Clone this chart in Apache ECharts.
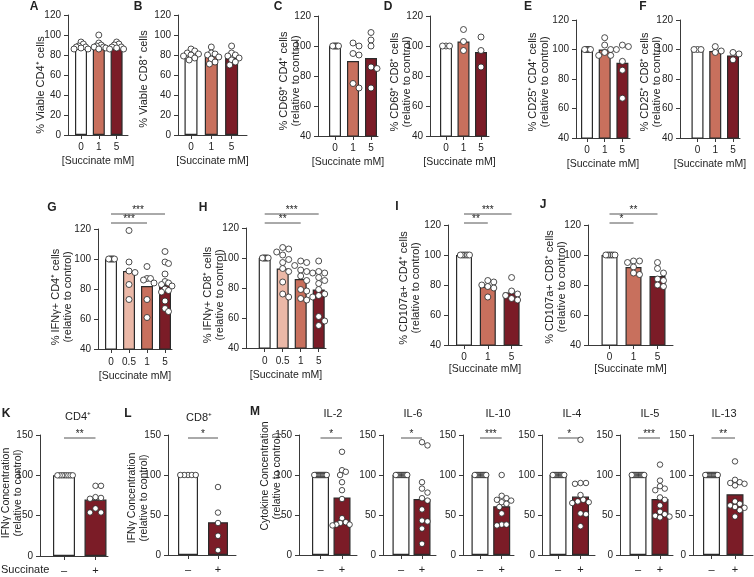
<!DOCTYPE html>
<html>
<head>
<meta charset="utf-8">
<script src="https://cdn.jsdelivr.net/npm/echarts@6/dist/echarts.min.js"></script>
<style>
html, body { margin: 0; padding: 0; background: #fff; }
#chart { width: 754px; height: 577px; }
</style>
</head>
<body>
<div id="chart"></div>
<script>
// categories
const succ3 = ['0', '1', '5'];
const succ4 = ['0', '0.5', '1', '5'];
const plusMinus = ['–', '+'];

// A / B  viability
const viableCD4Bars = [88, 88, 87];
const viableCD4Dots = [[93, 91, 89, 88, 88, 87, 86, 86], [100, 92, 90, 89, 88, 88, 87, 86], [93, 91, 90, 88, 88, 87, 86, 86]];
const viableCD8Bars = [80, 79, 77];
const viableCD8Dots = [[86, 84, 82, 81, 80, 79, 77, 75], [88, 82, 81, 80, 78, 76, 73, 71], [89, 82, 80, 79, 77, 75, 73, 70]];
// C / D  CD69
const cd69CD4Bars = [100, 90, 92];
const cd69CD4Dots = [[100, 100, 100, 100, 100, 100], [102, 100, 95, 94, 75, 72], [109, 104, 100, 86, 85, 72]];
const cd69CD8Bars = [100, 103, 96];
const cd69CD8Dots = [[100, 100, 100], [111, 103, 97], [106, 97, 86]];
// E / F  CD25
const cd25CD4Bars = [100, 100, 91];
const cd25CD4Dots = [[100, 100, 100, 100, 100, 100], [108, 103, 100, 98, 96, 96], [103, 102, 100, 92, 86, 67]];
const cd25CD8Bars = [100, 99, 96];
const cd25CD8Dots = [[100, 100, 100], [102, 99, 98], [98, 97, 93]];
// G / H  IFNg+
const ifngCD4Bars = [100, 92, 82, 83];
const ifngCD4Dots = [[100, 100, 100, 100, 100, 100], [119, 98, 92, 91, 83, 73], [95, 87, 87, 86, 84, 73, 61],
  [105, 98, 97, 90, 85, 84, 83, 82, 80, 79, 78, 72, 67, 65]];
const ifngCD8Bars = [100, 93, 86, 79];
const ifngCD8Dots = [[100, 100, 100, 100, 100, 100], [107, 106, 104, 102, 99, 97, 93, 91, 84, 76, 74],
  [98, 97, 95, 92, 91, 88, 85, 79, 78, 73, 72], [98, 91, 90, 90, 87, 85, 83, 79, 76, 75, 74, 61, 58, 55]];
// I / J  CD107a
const cd107CD4Bars = [100, 79, 75];
const cd107CD4Dots = [[100, 100, 100, 100, 100, 100], [83, 82, 80, 79, 78, 72], [85, 76, 74, 73, 71, 70]];
const cd107CD8Bars = [100, 92, 86];
const cd107CD8Dots = [[100, 100, 100, 100, 100, 100], [96, 96, 95, 92, 88, 87], [95, 91, 88, 84, 83, 80, 79]];
// K / L  IFNg concentration
const concCD4Bars = [100, 70];
const concCD4Dots = [[100, 100, 100, 100, 100, 100, 100, 100], [87, 87, 73, 72, 71, 59, 54, 54]];
const concCD8Bars = [100, 41];
const concCD8Dots = [[100, 100, 100, 100, 100], [85, 53, 40, 24, 6]];
// M  cytokines
const il2Bars = [100, 72];
const il2Dots = [Array(13).fill(100), [129, 106, 104, 100, 91, 81, 70, 46, 41, 40, 38, 37, 38]];
const il6Bars = [100, 70];
const il6Dots = [Array(12).fill(100), [141, 137, 91, 83, 78, 71, 68, 57, 43, 42, 33, 14]];
const il10Bars = [100, 61];
const il10Dots = [Array(12).fill(100), [100, 74, 71, 69, 68, 66, 64, 60, 52, 38, 38, 37]];
const il4Bars = [100, 73];
const il4Dots = [Array(12).fill(100), [144, 90, 90, 89, 75, 69, 67, 66, 65, 52, 51, 36]];
const il5Bars = [100, 70];
const il5Dots = [Array(13).fill(100), [113, 93, 86, 83, 81, 72, 69, 62, 54, 51, 49, 48, 47]];
const il13Bars = [100, 76];
const il13Dots = [Array(13).fill(100), [117, 94, 91, 90, 89, 87, 67, 64, 62, 60, 59, 56, 48]];

const FONT = '"Liberation Sans", Arial, sans-serif';
const INK = '#222';
const AXIS = '#3a3a3a';
const WHITE = '#ffffff', PINK = '#ebb8a7', SALMON = '#c8705d', DARK = '#7b1c27';

const rows = {
  top:  { xName: '[Succinate mM]', margin: 7, nameGap: 21, dot: 6, fs: 10, nameFs: 11 },
  midL: { xName: '[Succinate mM]', margin: 8, nameGap: 22, dot: 6, fs: 10, nameFs: 11 },
  midR: { xName: '[Succinate mM]', margin: 7, nameGap: 19, dot: 6, fs: 10, nameFs: 11 },
  bot:  { xName: '', margin: 9, nameGap: 0, dot: 5.5, fs: 11, nameFs: 10.5 }
};

function P(cats, bars, dots, y, box, c0, sp, bw, yName, yPos, row, sig) {
  return { cats, bars, dots, y, box, c0, sp, bw, yName, yPos, row: rows[row], sig: sig || [] };
}
const rel = '\n(relative to control)';
const panels = [
  P(succ3, viableCD4Bars, viableCD4Dots, [0, 120, 20], [68, 15, 60, 120], 81, 17.8, 12, '% Viable CD4⁺ cells', [40.5, 85], 'top'),
  P(succ3, viableCD8Bars, viableCD8Dots, [0, 120, 20], [178, 15, 69, 120], 191, 20.3, 13, '% Viable CD8⁺ cells', [143.5, 79], 'top'),
  P(succ3, cd69CD4Bars, cd69CD4Dots, [40, 120, 20], [318, 16, 60, 120], 335, 18, 12, '% CD69⁺ CD4⁺ cells' + rel, [289.5, 81], 'top'),
  P(succ3, cd69CD8Bars, cd69CD8Dots, [40, 120, 20], [430, 16, 59, 120], 446, 17.5, 12, '% CD69⁺ CD8⁺ cells' + rel, [400.5, 82], 'top'),
  P(succ3, cd25CD4Bars, cd25CD4Dots, [40, 120, 20], [576, 20, 54, 118], 587, 17.7, 12, '% CD25⁺ CD4⁺ cells' + rel, [539, 82], 'top'),
  P(succ3, cd25CD8Bars, cd25CD8Dots, [40, 120, 20], [680, 20, 60, 118], 697.5, 17.75, 12, '% CD25⁺ CD8⁺ cells' + rel, [651, 82], 'top'),
  P(succ4, ifngCD4Bars, ifngCD4Dots, [40, 120, 20], [98, 229, 74, 120], 111, 18, 12, '% IFNγ+ CD4⁺ cells' + rel, [61.5, 297], 'midL',
    [[0, 3, '***'], [0, 2, '***']]),
  P(succ4, ifngCD8Bars, ifngCD8Dots, [40, 120, 20], [246, 228, 80, 120], 264.7, 18, 12, '% IFNγ+ CD8⁺ cells' + rel, [213.5, 295], 'midL',
    [[0, 3, '***'], [0, 2, '**']]),
  P(succ3, cd107CD4Bars, cd107CD4Dots, [40, 120, 20], [448, 225, 74, 120], 464, 23.8, 16, '% CD107a+ CD4⁺ cells' + rel, [410, 288], 'midR',
    [[0, 2, '***'], [0, 1, '**']]),
  P(succ3, cd107CD8Bars, cd107CD8Dots, [40, 120, 20], [588, 225, 85, 120], 609.5, 24, 16, '% CD107a+ CD8⁺ cells' + rel, [556, 287], 'midR',
    [[0, 2, '**'], [0, 1, '*']]),
  P(plusMinus, concCD4Bars, concCD4Dots, [0, 150, 50], [40, 435, 68, 121], 64, 31.5, 22, 'IFNγ Concentration' + rel, [12, 493], 'bot', [[0, 1, '**']]),
  P(plusMinus, concCD8Bars, concCD8Dots, [0, 150, 50], [168, 435, 68, 120], 188, 30, 20, 'IFNγ Concentration' + rel, [138, 498], 'bot', [[0, 1, '*']]),
  P(plusMinus, il2Bars, il2Dots, [0, 150, 50], [299, 435, 58, 120], 320.5, 21.5, 17, 'Cytokine Concentration' + rel, [271, 476], 'bot', [[0, 1, '*']]),
  P(plusMinus, il6Bars, il6Dots, [0, 150, 50], [383, 435, 53, 120], 401, 21, 17, '', null, 'bot', [[0, 1, '*']]),
  P(plusMinus, il10Bars, il10Dots, [0, 150, 50], [463, 435, 51, 120], 480, 21.7, 17, '', null, 'bot', [[0, 1, '***']]),
  P(plusMinus, il4Bars, il4Dots, [0, 150, 50], [542, 435, 53, 120], 558, 22.5, 17, '', null, 'bot', [[0, 1, '*']]),
  P(plusMinus, il5Bars, il5Dots, [0, 150, 50], [620, 435, 53, 120], 638, 22, 17, '', null, 'bot', [[0, 1, '***']]),
  P(plusMinus, il13Bars, il13Dots, [0, 150, 50], [693, 435, 60, 120], 711.5, 23.5, 17, '', null, 'bot', [[0, 1, '**']])
];

const letters = [['A', 34, 7], ['B', 138, 7], ['C', 278, 7], ['D', 388, 7], ['E', 528, 7], ['F', 643, 7],
  ['G', 52, 208], ['H', 203, 208], ['I', 397, 207], ['J', 543, 205], ['K', 6, 414], ['L', 128, 414], ['M', 255, 412]];
const titles = [['CD4⁺', 78, 417], ['CD8⁺', 199, 418], ['IL-2', 333, 414], ['IL-6', 413, 414], ['IL-10', 498, 414],
  ['IL-4', 572, 414], ['IL-5', 650, 414], ['IL-13', 724, 414]];

function colorsFor(cats) {
  if (cats.length === 4) return [WHITE, PINK, SALMON, DARK];
  if (cats.length === 3) return [WHITE, SALMON, DARK];
  return [WHITE, DARK];
}

// simple beeswarm so the dots of a group do not sit on top of each other
function swarm(vals, idx, p, d) {
  const ppu = p.box[3] / (p.y[1] - p.y[0]);
  const order = vals.map((_, i) => i).sort((a, b) => vals[b] - vals[a]);
  const placed = [], offs = [];
  for (const i of order) {
    const yy = vals[i] * ppu;
    let off = 0;
    for (let k = 0; k < 400; k++) {
      const o = (k % 2 ? 1 : -1) * Math.ceil(k / 2) * d * 0.5;
      if (placed.every(q => (q[0] - o) ** 2 + (q[1] - yy) ** 2 >= d * d * 0.85)) { off = o; break; }
    }
    placed.push([off, yy]);
    offs[i] = off;
  }
  const same = vals.every(v => v === vals[0]);
  const cap = same ? p.bw / 2 - d / 2 + 0.5 : p.bw / 2 + 1;
  const m = Math.max(...offs.map(Math.abs));
  const s = m > cap ? cap / m : 1;
  return vals.map((v, i) => [idx + offs[i] * s / p.sp, v]);
}

const axisLine = { show: true, onZero: false, lineStyle: { color: AXIS, width: 1 } };
const grid = [], xAxis = [], yAxis = [], series = [];

panels.forEach((p, i) => {
  const [left, top, width, height] = p.box;
  const idx = p.cats.map((_, j) => j);
  grid.push({ left, top, width, height });
  xAxis.push({
    type: 'value', gridIndex: i,
    min: -(p.c0 - left) / p.sp, max: (left + width - p.c0) / p.sp,
    axisLine, splitLine: { show: false },
    axisTick: { show: true, customValues: idx, length: 4, lineStyle: { color: AXIS } },
    axisLabel: { customValues: idx, formatter: v => p.cats[Math.round(v)], margin: p.row.margin,
      fontSize: p.row.fs, fontFamily: FONT, color: INK },
    name: p.row.xName, nameLocation: 'middle', nameGap: p.row.nameGap, nameMoveOverlap: false,
    nameTextStyle: { fontSize: 10.5, fontFamily: FONT, color: INK }
  });
  yAxis.push({
    type: 'value', gridIndex: i, min: p.y[0], max: p.y[1], interval: p.y[2],
    axisLine, splitLine: { show: false },
    axisTick: { show: true, length: 4, lineStyle: { color: AXIS } },
    axisLabel: { fontSize: 10, fontFamily: FONT, color: INK, margin: 7 }
  });
  const cols = colorsFor(p.cats);
  series.push({
    type: 'bar', xAxisIndex: i, yAxisIndex: i, barWidth: p.bw, silent: true, animation: false,
    itemStyle: { borderColor: '#2b2b2b', borderWidth: 1.2 },
    data: p.bars.map((v, j) => ({ value: [j, v], itemStyle: { color: cols[j] } }))
  });
  series.push({
    type: 'scatter', xAxisIndex: i, yAxisIndex: i, symbolSize: p.row.dot, silent: true, animation: false, z: 3,
    itemStyle: { color: '#fff', borderColor: '#222', borderWidth: 0.8, opacity: 1 },
    data: p.dots.flatMap((vals, j) => swarm(vals, j, p, p.row.dot))
  });
});

const chart = echarts.init(document.getElementById('chart'), null, { renderer: 'canvas' });
chart.setOption({ animation: false, backgroundColor: '#fff', grid, xAxis, yAxis, series });

function txt(text, x, y, font, align, valign, rotation) {
  return { type: 'text', x, y, rotation: rotation || 0, silent: true,
    style: { text, font, fill: INK, align, verticalAlign: valign, textAlign: align, textVerticalAlign: valign, lineHeight: 12 } };
}

const gfx = [];
letters.forEach(([t, x, y]) => gfx.push(txt(t, x, y, 'bold 12px ' + FONT, 'center', 'middle')));
titles.forEach(([t, x, y]) => gfx.push(txt(t, x, y, '11px ' + FONT, 'center', 'middle')));
panels.forEach(p => {
  if (p.yName) gfx.push(txt(p.yName, p.yPos[0], p.yPos[1], p.row.nameFs + 'px ' + FONT, 'center', 'middle', Math.PI / 2));
});
gfx.push(txt('Succinate', 1, 570, '11px ' + FONT, 'left', 'middle'));

// significance brackets, placed through the axes
const sigY = { midL: [214, 223], midR: [214, 223], bot: [438] };
panels.forEach((p, i) => {
  const key = Object.keys(rows).find(k => rows[k] === p.row);
  p.sig.forEach(([a, b, stars], level) => {
    const y = sigY[key][level];
    const x1 = chart.convertToPixel({ xAxisIndex: i }, a);
    const x2 = chart.convertToPixel({ xAxisIndex: i }, b);
    gfx.push({ type: 'line', silent: true, shape: { x1, y1: y, x2, y2: y }, style: { stroke: '#555', lineWidth: 1 } });
    gfx.push(txt(stars, (x1 + x2) / 2, y + 2, '10px ' + FONT, 'center', 'bottom'));
  });
});
chart.setOption({ graphic: gfx });
</script>
</body>
</html>
